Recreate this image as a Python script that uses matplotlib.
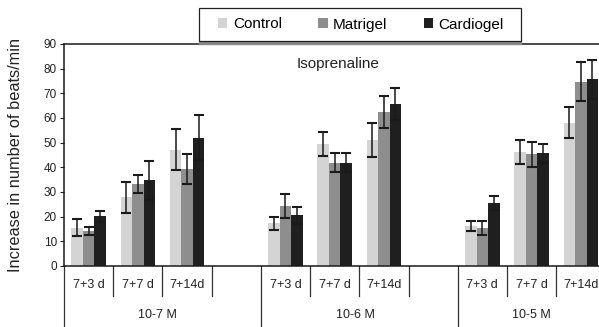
import numpy as np
import matplotlib
matplotlib.use("Agg")
import matplotlib.pyplot as plt
from matplotlib.patches import Rectangle

plt.rcParams["font.family"] = ["Liberation Sans", "DejaVu Sans"]

# data
series = ["Control", "Matrigel", "Cardiogel"]
colors = ["#d4d4d4", "#8e8e8e", "#1f1f1f"]
doses = ["10-7 M", "10-6 M", "10-5 M"]
times = ["7+3 d", "7+7 d", "7+14d"]

control = [15.6, 27.8, 47.1, 17.3, 49.5, 51.0, 16.2, 46.1, 58.1]
control_err = [3.6, 6.3, 8.3, 2.7, 4.9, 7.0, 2.2, 4.8, 6.2]
matrigel = [14.1, 33.2, 39.3, 24.2, 41.9, 62.6, 15.4, 45.3, 74.7]
matrigel_err = [1.7, 3.8, 6.0, 4.8, 3.8, 6.5, 2.8, 5.0, 8.0]
cardiogel = [20.1, 34.8, 52.0, 20.5, 41.9, 65.7, 25.6, 45.7, 75.8]
cardiogel_err = [2.3, 7.9, 9.1, 3.6, 3.8, 6.4, 2.8, 3.9, 7.9]

values = [control, matrigel, cardiogel]
errors = [control_err, matrigel_err, cardiogel_err]

# each dose gets 4 slots: 3 time points + one empty
slots = np.array([d * 4 + t for d in range(3) for t in range(3)]) + 0.5
bw = 0.234

fig = plt.figure(figsize=(5.99, 3.27), dpi=100)
ax = fig.add_axes([64 / 599, 61 / 327, 535 / 599, 222 / 327])

for i in range(3):
    ax.bar(slots + (i - 1) * bw, values[i], width=bw, color=colors[i],
           label=series[i], zorder=2)
    ax.errorbar(slots + (i - 1) * bw, values[i], yerr=errors[i], fmt="none",
                ecolor="#1a1a1a", elinewidth=1.1, capsize=3.5, capthick=1.5,
                zorder=3)

ax.set_xlim(0, 10.87)
ax.set_ylim(0, 90)
ax.set_yticks(range(0, 91, 10))
ax.tick_params(axis="y", direction="out", length=3, width=0.8, labelsize=8.5,
               pad=2, colors="#222222")
ax.set_xticks([])
for s in ["left", "top", "bottom"]:
    ax.spines[s].set_linewidth(1.1)
    ax.spines[s].set_color("#1a1a1a")
ax.spines["right"].set_visible(False)

ax.set_ylabel("Increase in number of beats/min", fontsize=11.8,
              color="#222222")
ax.yaxis.set_label_coords(-0.077, 0.5)

ax.text(5.57, 82, "Isoprenaline", fontsize=11, ha="center", va="center",
        color="#222222")

# category lines and labels under the axis
trans = ax.get_xaxis_transform()
for k in range(12):
    if k % 4 == 0:
        ax.plot([k, k], [0, -0.29], color="#333333", lw=0.9, transform=trans,
                clip_on=False)
    else:
        ax.plot([k, k], [0, -0.135], color="#333333", lw=0.9, transform=trans,
                clip_on=False)
for d in range(3):
    for t in range(3):
        ax.text(d * 4 + t + 0.5, -0.086, times[t], transform=trans,
                ha="center", va="center", fontsize=9, color="#222222")
dose_x = [1.89, 5.93, 9.5]
for d in range(3):
    ax.text(dose_x[d], -0.22, doses[d], transform=trans, ha="center",
            va="center", fontsize=9, color="#222222")

# legend box with a grey shadow along the bottom
fig.patches.append(Rectangle((199 / 599, 1 - 44 / 327), 322 / 599, 3 / 327,
                             transform=fig.transFigure, color="#888888",
                             zorder=0))
fig.patches.append(Rectangle((199 / 599, 1 - 41 / 327), 322 / 599, 33 / 327,
                             transform=fig.transFigure, facecolor="white",
                             edgecolor="#222222", lw=0.9, zorder=1))
leg = fig.legend(loc="center", bbox_to_anchor=(361 / 599, 1 - 24.5 / 327),
                 ncol=3, fontsize=11, frameon=False,
                 handlelength=0.6, handleheight=0.6, handletextpad=0.35,
                 columnspacing=2.4)

fig.savefig("out.png", dpi=100)
